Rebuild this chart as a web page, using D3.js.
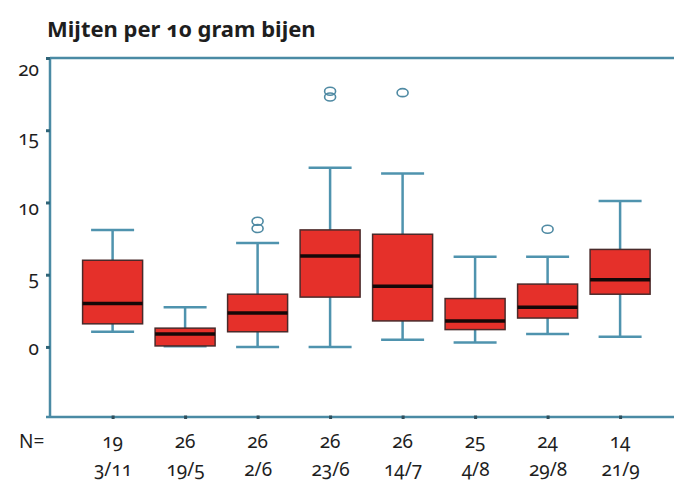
<!DOCTYPE html>
<html>
<head>
<meta charset="utf-8">
<script src="https://cdn.jsdelivr.net/npm/d3@7"></script>
<style>
  html, body { margin: 0; padding: 0; background: #ffffff; }
  svg { display: block; }
  text { font-family: "Noto Sans", "Open Sans", sans-serif; fill: #1e1e1e; font-variant-numeric: oldstyle-nums; font-feature-settings: "onum" 1; }
</style>
</head>
<body>
<svg id="chart" width="674" height="488"></svg>
<script>
// ---- data ----
const title = "Mijten per 10 gram bijen";
const categories = ["3/11", "19/5", "2/6", "23/6", "14/7", "4/8", "29/8", "21/9"];
const nValues = [19, 26, 26, 26, 26, 25, 24, 14];
const whiskerLow = [1.05, 0.05, 0.0, 0.0, 0.5, 0.3, 0.9, 0.7];
const q1 = [1.6, 0.07, 1.05, 3.45, 1.8, 1.2, 2.0, 3.65];
const median = [3.0, 0.9, 2.35, 6.3, 4.2, 1.8, 2.75, 4.65];
const q3 = [6.0, 1.3, 3.65, 8.1, 7.8, 3.35, 4.35, 6.75];
const whiskerHigh = [8.1, 2.75, 7.2, 12.4, 12.0, 6.25, 6.25, 10.1];
const outliers = [[], [], [8.2, 8.7], [17.3, 17.7], [17.6], [], [8.15], []];
const yTicks = [0, 5, 10, 15, 20];
const yMin = -4.85, yMax = 20;

// ---- layout ----
const svg = d3.select("#chart");
const mLeft = 50, mRight = 674, mTop = 58, mBottom = 417;
const axisColor = "#4a8aa4";

const x = d3.scalePoint().domain(categories).range([112.6, 620.1]);
const y = d3.scaleLinear().domain([yMin, yMax]).range([mBottom, mTop]);
const yLab = d3.scaleLinear().domain([0, 20]).range([348, 69]);

const boxW = 60, capW = 43;

// title
svg.append("text").attr("x", 47).attr("y", 37)
  .style("font-size", "22px").style("font-weight", "700")
  .text(title);

// frame
const frame = svg.append("g").attr("stroke", axisColor).attr("stroke-width", 2.5).attr("fill", "none");
frame.append("line").attr("x1", mLeft).attr("x2", mRight).attr("y1", mTop).attr("y2", mTop);
frame.append("line").attr("x1", mLeft - 4).attr("x2", mRight).attr("y1", mBottom).attr("y2", mBottom);
frame.append("line").attr("x1", mLeft).attr("x2", mLeft).attr("y1", mTop).attr("y2", mBottom);

// y tick marks
svg.append("g").attr("transform", `translate(${mLeft},0)`)
  .call(d3.axisLeft(y).tickValues(yTicks).tickSize(4).tickFormat(""))
  .call(g => g.select(".domain").remove())
  .call(g => g.selectAll("line").attr("stroke", "#2f6478").attr("stroke-width", 3));

// y tick labels
svg.append("g").attr("transform", `translate(39,0)`)
  .call(d3.axisLeft(yLab).tickValues(yTicks).tickSize(0).tickPadding(0).tickFormat(d3.format("d")))
  .call(g => g.select(".domain").remove())
  .call(g => g.selectAll("text").style("font-size", "19px").attr("fill", "#1e1e1e"));

// x tick marks
svg.append("g").attr("transform", `translate(0,${mBottom})`)
  .call(d3.axisBottom(x).tickSize(3).tickFormat(""))
  .call(g => g.select(".domain").remove())
  .call(g => g.selectAll("line").attr("stroke", "#2f4f5c").attr("stroke-width", 3).attr("y1", -1.5).attr("y2", 2));

// N row
svg.append("text").attr("x", 19).attr("y", 448).style("font-size", "19px").text("N=");
svg.append("g").selectAll("text").data(nValues).join("text")
  .attr("x", (d, i) => x(categories[i])).attr("y", 448)
  .attr("text-anchor", "middle").style("font-size", "19px")
  .text(d => d);

// date row
svg.append("g").attr("transform", `translate(0,0)`)
  .call(d3.axisBottom(x).tickSize(0).tickPadding(0))
  .call(g => g.select(".domain").remove())
  .call(g => g.selectAll("text").attr("y", 476).attr("dy", null).style("font-size", "19px").attr("fill", "#1e1e1e"));

// boxes
const boxes = svg.append("g").selectAll("g").data(categories).join("g");
boxes.each(function(c, i) {
  const g = d3.select(this);
  const cx = x(c);
  g.append("line").attr("x1", cx).attr("x2", cx).attr("y1", y(whiskerHigh[i])).attr("y2", y(q3[i]))
    .attr("stroke", "#4f93ae").attr("stroke-width", 2.5);
  g.append("line").attr("x1", cx).attr("x2", cx).attr("y1", y(q1[i])).attr("y2", y(whiskerLow[i]))
    .attr("stroke", "#4f93ae").attr("stroke-width", 2.5);
  g.append("line").attr("x1", cx - capW / 2).attr("x2", cx + capW / 2).attr("y1", y(whiskerHigh[i])).attr("y2", y(whiskerHigh[i]))
    .attr("stroke", "#4f93ae").attr("stroke-width", 2.5);
  g.append("line").attr("x1", cx - capW / 2).attr("x2", cx + capW / 2).attr("y1", y(whiskerLow[i])).attr("y2", y(whiskerLow[i]))
    .attr("stroke", "#4f93ae").attr("stroke-width", 2.5);
  g.append("rect").attr("x", cx - boxW / 2).attr("width", boxW)
    .attr("y", y(q3[i])).attr("height", y(q1[i]) - y(q3[i]))
    .attr("fill", "#e5302a").attr("stroke", "#4a2a2a").attr("stroke-width", 1.5);
  g.append("line").attr("x1", cx - boxW / 2).attr("x2", cx + boxW / 2).attr("y1", y(median[i])).attr("y2", y(median[i]))
    .attr("stroke", "#140808").attr("stroke-width", 3.5);
  g.selectAll("ellipse").data(outliers[i]).join("ellipse")
    .attr("cx", cx).attr("cy", d => y(d)).attr("rx", 5.5).attr("ry", 4)
    .attr("fill", "none").attr("stroke", "#4f8aa3").attr("stroke-width", 1.6);
});
</script>
</body>
</html>
